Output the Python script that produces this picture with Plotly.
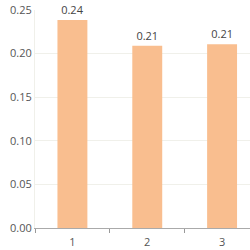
import plotly.graph_objects as go

categories = ["1", "2", "3"]
values = [0.2385, 0.2089, 0.2108]
labels = ["0.24", "0.21", "0.21"]
y_ticks = [0.0, 0.05, 0.10, 0.15, 0.20, 0.25]

fig = go.Figure(go.Bar(
    x=categories, y=values, text=labels, textposition="outside",
    width=0.4, marker=dict(color="#F9BE8F", line=dict(width=0)),
    textfont=dict(color="#444", size=11, family="Open Sans"),
    cliponaxis=False,
))
fig.update_layout(
    width=250, height=250,
    margin=dict(l=35, r=0, t=10, b=22),
    paper_bgcolor="white", plot_bgcolor="white",
    showlegend=False,
    font=dict(family="Open Sans", size=11, color="#555"),
)
fig.update_xaxes(
    type="category", range=[-0.5, 2.373],
    tickson="boundaries", ticks="outside", ticklen=4, tickcolor="#999",
    showline=True, linecolor="#aaa", linewidth=1,
    showgrid=False, tickfont=dict(size=11, color="#555"),
    ticklabelstandoff=4,
)
fig.update_yaxes(
    range=[0, 0.25], tickvals=y_ticks, ticktext=[f"{v:.2f}" for v in y_ticks],
    showgrid=True, gridcolor="#f0f0ea", gridwidth=1,
    showline=True, linecolor="#f0f0ea", zeroline=False,
    ticks="", tickfont=dict(size=11, color="#555"),
)
fig.write_html("out.html")
